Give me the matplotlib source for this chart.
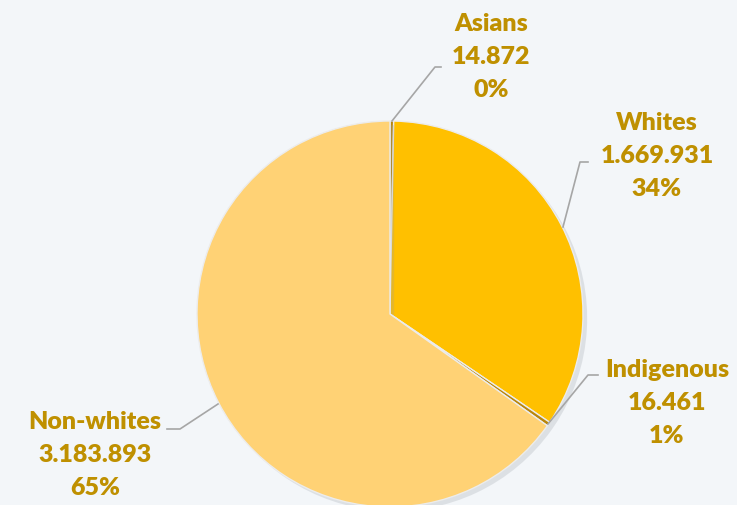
import matplotlib.pyplot as plt
import matplotlib.patheffects as pe

groups = ["Asians", "Whites", "Indigenous", "Non-whites"]
counts = [14872, 1669931, 16461, 3183893]
count_labels = ["14.872", "1.669.931", "16.461", "3.183.893"]
pct_labels = ["0%", "34%", "1%", "65%"]
colors = ["#B8860B", "#FFC000", "#B8860B", "#FFD275"]

bg = "#F3F6F9"
txt = "#BF9000"

fig = plt.figure(figsize=(7.37, 5.06), dpi=100)
fig.patch.set_facecolor(bg)

W, H = 737, 506
cx, cy, r = 390, 315, 193
ax = fig.add_axes([(cx - r) / W, (H - cy - r) / H, 2 * r / W, 2 * r / H])

wedges, _ = ax.pie(counts, colors=colors, startangle=90, counterclock=False, radius=1,
                   wedgeprops=dict(edgecolor="#ECECEC", linewidth=1))
for w in wedges:
    w.set_path_effects([pe.SimplePatchShadow(offset=(3, -3), shadow_rgbFace="#9aa0a6", alpha=0.25), pe.Normal()])
ax.set_xlim(-1, 1)
ax.set_ylim(-1, 1)
ax.axis("off")

# label positions (pixel coords, text block centre) and leader lines
label_pos = [(491, 57), (657, 156), (667, 403), (95, 455)]
leaders = [
    [(392, 122), (435, 68), (441, 68)],
    [(563, 228), (580, 163), (588, 163)],
    [(548, 425), (588, 376), (598, 376)],
    [(218, 405), (180, 430), (167, 430)],
]

for g, c, p, (x, y), pts in zip(groups, count_labels, pct_labels, label_pos, leaders):
    fig.text(x / W, 1 - y / H, f"{g}\n{c}\n{p}", ha="center", va="center",
             fontsize=18, fontweight="heavy", color=txt, family="Lato", linespacing=1.62)
    xs = [px / W for px, _ in pts]
    ys = [1 - py / H for _, py in pts]
    fig.add_artist(plt.Line2D(xs, ys, color="#A6A6A6", linewidth=1.2))

fig.savefig("out.png", dpi=100, facecolor=bg)
